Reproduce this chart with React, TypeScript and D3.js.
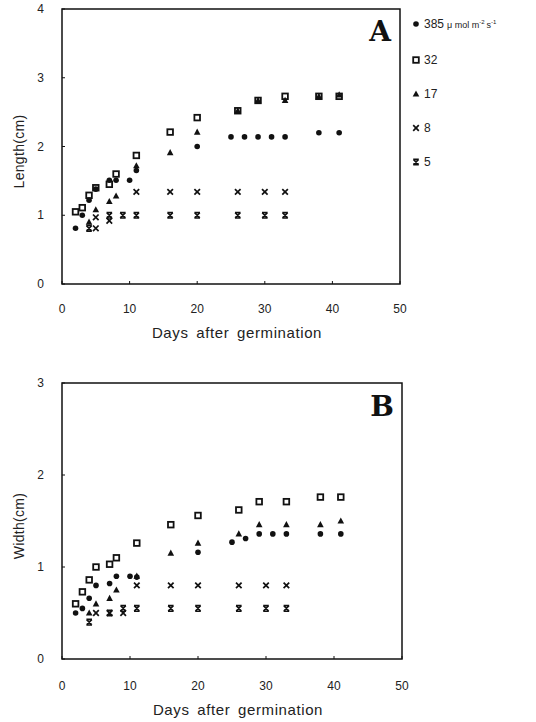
import React from "react";
import * as d3 from "d3";

// ---------- Panel A: Length (cm) ----------
const lenDays385 = [2, 3, 4, 5, 7, 8, 10, 11, 20, 25, 27, 29, 31, 33, 38, 41];
const len385 = [0.81, 1.0, 1.22, 1.38, 1.51, 1.51, 1.51, 1.65, 2.0, 2.14, 2.14, 2.14, 2.14, 2.14, 2.2, 2.2];
const lenDays32 = [2, 3, 4, 5, 7, 8, 11, 16, 20, 26, 29, 33, 38, 41];
const len32 = [1.05, 1.11, 1.29, 1.4, 1.45, 1.6, 1.87, 2.21, 2.42, 2.52, 2.67, 2.73, 2.73, 2.73];
const lenDays17 = [4, 5, 7, 8, 11, 16, 20, 26, 29, 33, 38, 41];
const len17 = [0.9, 1.08, 1.2, 1.28, 1.72, 1.91, 2.21, 2.52, 2.67, 2.67, 2.73, 2.75];
const lenDays8 = [5, 5, 7, 11, 16, 20, 26, 30, 33];
const len8 = [0.97, 0.81, 0.92, 1.34, 1.34, 1.34, 1.34, 1.34, 1.34];
const lenDays5 = [4, 7, 9, 11, 16, 20, 26, 30, 33];
const len5 = [0.81, 1.0, 1.0, 1.0, 1.0, 1.0, 1.0, 1.0, 1.0];

// ---------- Panel B: Width (cm) ----------
const widDays385 = [2, 3, 4, 5, 7, 8, 10, 11, 20, 25, 27, 29, 31, 33, 38, 41];
const wid385 = [0.5, 0.55, 0.66, 0.8, 0.82, 0.9, 0.9, 0.89, 1.16, 1.27, 1.31, 1.36, 1.36, 1.36, 1.36, 1.36];
const widDays32 = [2, 3, 4, 5, 7, 8, 11, 16, 20, 26, 29, 33, 38, 41];
const wid32 = [0.6, 0.73, 0.86, 1.0, 1.03, 1.1, 1.26, 1.46, 1.56, 1.62, 1.71, 1.71, 1.76, 1.76];
const widDays17 = [4, 5, 7, 8, 11, 16, 20, 26, 29, 33, 38, 41];
const wid17 = [0.5, 0.6, 0.66, 0.75, 0.9, 1.15, 1.26, 1.36, 1.46, 1.46, 1.46, 1.5];
const widDays8 = [5, 7, 9, 11, 16, 20, 26, 30, 33];
const wid8 = [0.5, 0.5, 0.5, 0.8, 0.8, 0.8, 0.8, 0.8, 0.8];
const widDays5 = [4, 7, 9, 11, 16, 20, 26, 30, 33];
const wid5 = [0.4, 0.5, 0.55, 0.55, 0.55, 0.55, 0.55, 0.55, 0.55];

const xTicks = [0, 10, 20, 30, 40, 50];
const yTicksA = [0, 1, 2, 3, 4];
const yTicksB = [0, 1, 2, 3];
const legendLabels = ["385", "32", "17", "8", "5"];
const markerTypes = ["circle", "square", "triangle", "cross", "hourglass"];

type Series = { type: string; days: number[]; vals: number[] };

const seriesA: Series[] = [
  { type: "hourglass", days: lenDays5, vals: len5 },
  { type: "cross", days: lenDays8, vals: len8 },
  { type: "square", days: lenDays32, vals: len32 },
  { type: "triangle", days: lenDays17, vals: len17 },
  { type: "circle", days: lenDays385, vals: len385 },
];
const seriesB: Series[] = [
  { type: "hourglass", days: widDays5, vals: wid5 },
  { type: "cross", days: widDays8, vals: wid8 },
  { type: "square", days: widDays32, vals: wid32 },
  { type: "triangle", days: widDays17, vals: wid17 },
  { type: "circle", days: widDays385, vals: wid385 },
];

const FONT = "'Liberation Sans', Arial, sans-serif";

function Marker({ type, x, y }: { type: string; x: number; y: number }) {
  const t = `translate(${x},${y})`;
  if (type === "circle") return <circle cx={x} cy={y} r={2.8} fill="#111" />;
  if (type === "square")
    return <rect x={x - 2.8} y={y - 2.8} width={5.6} height={5.6} fill="white" stroke="#111" strokeWidth={1.8} />;
  if (type === "triangle")
    return <path transform={t} d="M0,-3.6L3.3,2.6L-3.3,2.6Z" fill="#111" />;
  if (type === "cross")
    return <path transform={t} d="M-2.8,-2.8L2.8,2.8M2.8,-2.8L-2.8,2.8" stroke="#111" strokeWidth={1.7} fill="none" />;
  return (
    <path transform={t} d="M-2.6,-2.6L2.6,2.6M2.6,-2.6L-2.6,2.6M-2.8,-2.8L2.8,-2.8M-2.8,2.8L2.8,2.8" stroke="#111" strokeWidth={1.6} fill="none" />
  );
}

function Panel({
  series, x, y, yTicks, yLabel, letter, letterY, labelY, titleY,
}: {
  series: Series[]; x: d3.ScaleLinear<number, number>; y: d3.ScaleLinear<number, number>;
  yTicks: number[]; yLabel: string; letter: string; letterY: number; labelY: number; titleY: number;
}) {
  const [x0, x1] = x.range();
  const [yb, yt] = y.range();
  return (
    <g>
      <rect x={x0} y={yt} width={x1 - x0} height={yb - yt} fill="none" stroke="#111" strokeWidth={1.5} />
      {yTicks.map((v) => (
        <g key={"y" + v}>
          <line x1={x0} x2={x0 + 3} y1={y(v)} y2={y(v)} stroke="#111" strokeWidth={1} />
          <text x={44} y={y(v) + 4} textAnchor="end" fontSize={12} fontFamily={FONT} fill="#222">{v}</text>
        </g>
      ))}
      {xTicks.map((v) => (
        <g key={"x" + v}>
          <line x1={x(v)} x2={x(v)} y1={yb} y2={yb - 3} stroke="#111" strokeWidth={1} />
          <text x={x(v)} y={labelY} textAnchor="middle" fontSize={12} fontFamily={FONT} fill="#222">{v}</text>
        </g>
      ))}
      <text x={(x0 + x1) / 2 + 6} y={titleY} textAnchor="middle" fontSize={15} letterSpacing={0.6} wordSpacing={3} fontFamily={FONT} fill="#222">
        Days after germination
      </text>
      <text transform={`translate(24,${(yb + yt) / 2 + 5}) rotate(-90)`} textAnchor="middle" fontSize={14} letterSpacing={0.3} fontFamily={FONT} fill="#222">
        {yLabel}
      </text>
      <text x={x1 - 20} y={letterY} textAnchor="middle" fontSize={28} fontWeight="bold" fontFamily="'DejaVu Serif', 'Liberation Serif', serif" fill="#111">
        {letter}
      </text>
      {series.map((s, i) => (
        <g key={i}>
          {s.days.map((d, j) => (
            <Marker key={j} type={s.type} x={x(d)} y={y(s.vals[j])} />
          ))}
        </g>
      ))}
    </g>
  );
}

export default function App() {
  const xA = d3.scaleLinear().domain([0, 50]).range([62, 400]);
  const yA = d3.scaleLinear().domain([0, 4]).range([284, 9]);
  const xB = d3.scaleLinear().domain([0, 50]).range([62, 402]);
  const yB = d3.scaleLinear().domain([0, 3]).range([659, 383]);
  const legendY = [24, 60, 94, 128, 162];
  return (
    <svg width={536} height={722} style={{ position: "absolute", left: 0, top: 0, background: "white" }}>
      <rect width={536} height={722} fill="white" />
      <Panel series={seriesA} x={xA} y={yA} yTicks={yTicksA} yLabel="Length(cm)" letter="A" letterY={41} labelY={313} titleY={338} />
      <Panel series={seriesB} x={xB} y={yB} yTicks={yTicksB} yLabel="Width(cm)" letter="B" letterY={416} labelY={690} titleY={715} />
      {legendLabels.map((l, i) => (
        <g key={l}>
          <Marker type={markerTypes[i]} x={416} y={legendY[i]} />
          <text x={424} y={legendY[i] + 4} fontSize={12} fontFamily={FONT} fill="#222">
            {l}
            {i === 0 && (
              <>
                <tspan fontSize={9} dx={3}>μ mol m</tspan>
                <tspan fontSize={6} dy={-4}>-2</tspan>
                <tspan fontSize={9} dy={4} dx={2}>s</tspan>
                <tspan fontSize={6} dy={-4}>-1</tspan>
              </>
            )}
          </text>
        </g>
      ))}
    </svg>
  );
}
